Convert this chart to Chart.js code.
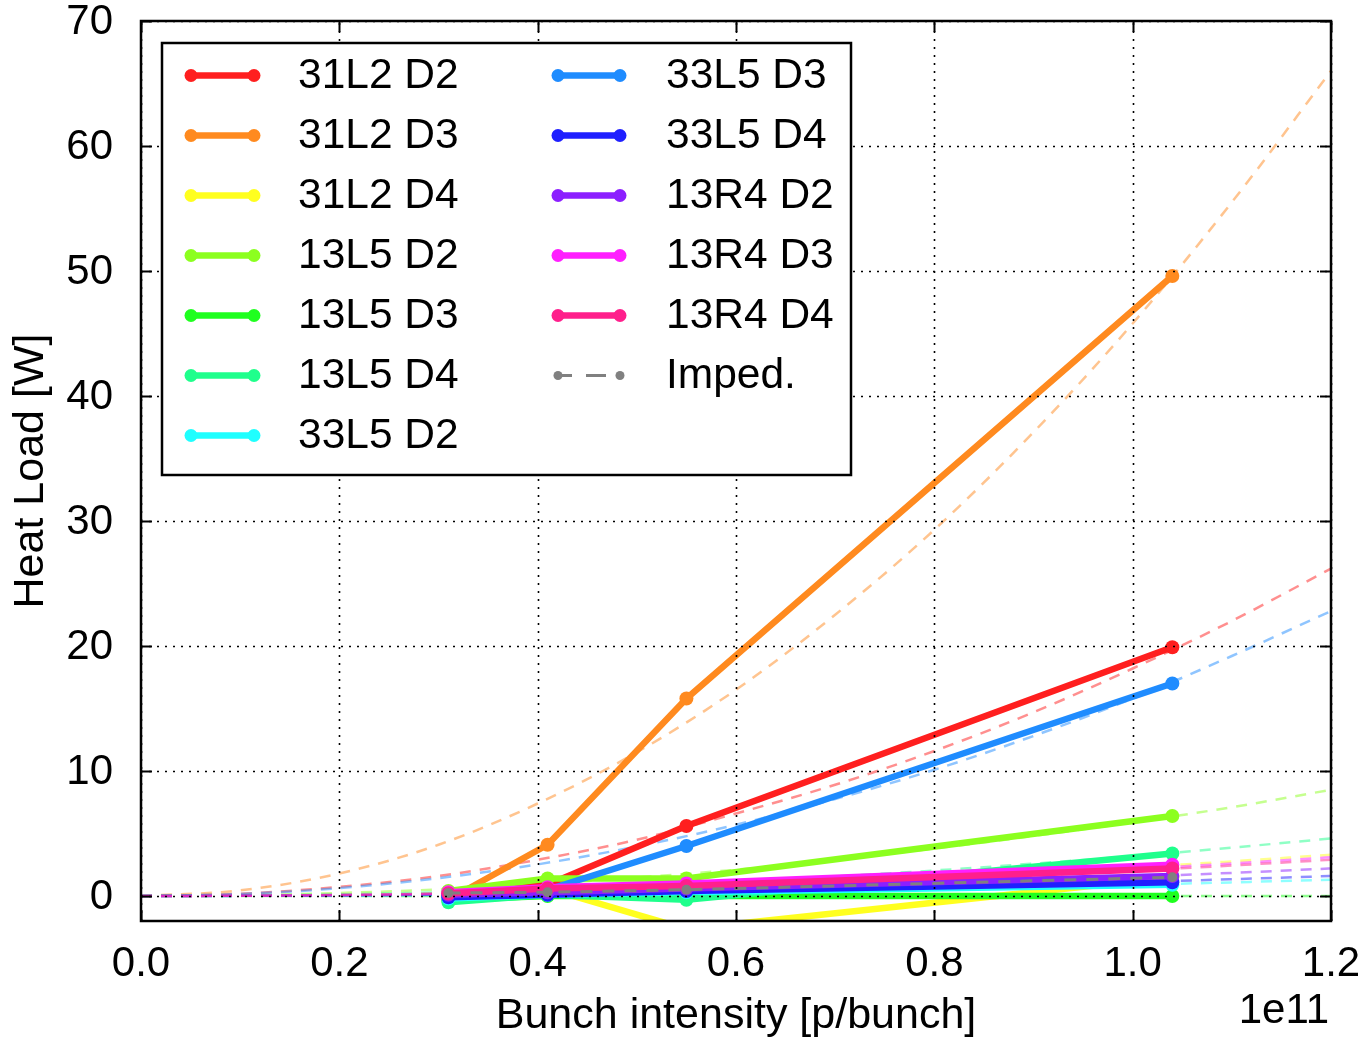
<!DOCTYPE html>
<html>
<head>
<meta charset="utf-8">
<title>Heat load vs bunch intensity</title>
<script src="https://cdn.jsdelivr.net/npm/chart.js@4.4.1/dist/chart.umd.min.js"></script>
<style>
  html, body { margin: 0; padding: 0; background: #ffffff; }
  #wrap { width: 1366px; height: 1038px; }
</style>
</head>
<body>
<div id="wrap"><canvas id="c" width="1366" height="1038"></canvas></div>
<script>
// Measured heat loads per magnet, at four bunch intensities (units of 1e11 p/bunch)
const intensities = [0.31, 0.41, 0.55, 1.04];

const seriesNames = ['31L2 D2', '31L2 D3', '31L2 D4', '13L5 D2', '13L5 D3', '13L5 D4',
                     '33L5 D2', '33L5 D3', '33L5 D4', '13R4 D2', '13R4 D3', '13R4 D4'];
const seriesColors = ['#ff1f1f', '#ff8a1f', '#ffff1f', '#8cff1f', '#1fff1f', '#1fff8c',
                      '#1fffff', '#1f8cff', '#1f1fff', '#8c1fff', '#ff1fff', '#ff1f8c'];

const load_31L2_D2 = [0.2, 0.9, 5.6, 19.9];
const load_31L2_D3 = [-0.3, 4.1, 15.8, 49.6];
const load_31L2_D4 = [0.0, 0.6, -2.65, 1.5];
const load_13L5_D2 = [0.4, 1.4, 1.4, 6.4];
const load_13L5_D3 = [-0.3, 0.0, 0.0, 0.0];
const load_13L5_D4 = [-0.5, 0.1, -0.3, 3.4];
const load_33L5_D2 = [-0.2, 0.1, 0.3, 0.9];
const load_33L5_D3 = [0.0, 0.5, 4.0, 17.0];
const load_33L5_D4 = [-0.1, 0.1, 0.4, 1.1];
const load_13R4_D2 = [0.1, 0.3, 0.6, 1.6];
const load_13R4_D3 = [0.3, 0.7, 1.0, 2.5];
const load_13R4_D4 = [0.2, 0.6, 0.8, 2.2];

// Impedance contribution at the same intensities
const impedLoad = [0.24, 0.3, 0.5, 1.5];

// Fitted curves, sampled from 0 to 1.2e11
const fitIntensities = [0, 0.1, 0.2, 0.3, 0.4, 0.5, 0.6, 0.7, 0.8, 0.9, 1.0, 1.1, 1.2];
const fit_31L2_D2 = [0, 0.18, 0.73, 1.6, 2.9, 4.5, 6.6, 8.9, 11.6, 14.7, 18.2, 22.0, 26.2];
const fit_31L2_D3 = [0, 0.45, 1.8, 4.1, 7.4, 11.5, 16.5, 22.5, 29.3, 37.1, 45.8, 55.5, 66.0];
const fit_31L2_D4 = [0, 0.02, 0.09, 0.21, 0.37, 0.57, 0.83, 1.12, 1.47, 1.86, 2.29, 2.77, 3.3];
const fit_13L5_D2 = [0, 0.06, 0.24, 0.53, 0.94, 1.48, 2.1, 2.9, 3.8, 4.8, 5.9, 7.1, 8.5];
const fit_13L5_D3 = [0, 0, 0, 0, 0, 0, 0, 0, 0, 0, 0, 0, 0];
const fit_13L5_D4 = [0, 0.03, 0.13, 0.29, 0.51, 0.80, 1.15, 1.57, 2.04, 2.59, 3.19, 3.87, 4.6];
const fit_33L5_D2 = [0, 0.01, 0.04, 0.08, 0.14, 0.23, 0.33, 0.44, 0.58, 0.73, 0.9, 1.09, 1.3];
const fit_33L5_D3 = [0, 0.16, 0.63, 1.43, 2.53, 3.96, 5.7, 7.76, 10.1, 12.8, 15.8, 19.2, 22.8];
const fit_33L5_D4 = [0, 0.01, 0.04, 0.1, 0.18, 0.28, 0.4, 0.54, 0.71, 0.9, 1.11, 1.34, 1.6];
const fit_13R4_D2 = [0, 0.02, 0.06, 0.14, 0.24, 0.38, 0.55, 0.75, 0.98, 1.24, 1.53, 1.85, 2.2];
const fit_13R4_D3 = [0, 0.02, 0.09, 0.19, 0.34, 0.54, 0.78, 1.05, 1.38, 1.74, 2.15, 2.6, 3.1];
const fit_13R4_D4 = [0, 0.02, 0.08, 0.18, 0.32, 0.5, 0.73, 0.99, 1.29, 1.63, 2.01, 2.44, 2.9];

const xTicks = [0, 0.2, 0.4, 0.6, 0.8, 1.0, 1.2];
const xTickLabels = ['0.0', '0.2', '0.4', '0.6', '0.8', '1.0', '1.2'];
const yTicks = [0, 10, 20, 30, 40, 50, 60, 70];
const yTickLabels = ['0', '10', '20', '30', '40', '50', '60', '70'];

const xTitle = 'Bunch intensity [p/bunch]';
const yTitle = 'Heat Load [W]';
const xExponent = '1e11';
const impedName = 'Imped.';

const measured = [load_31L2_D2, load_31L2_D3, load_31L2_D4, load_13L5_D2, load_13L5_D3, load_13L5_D4,
                  load_33L5_D2, load_33L5_D3, load_33L5_D4, load_13R4_D2, load_13R4_D3, load_13R4_D4];
const fits = [fit_31L2_D2, fit_31L2_D3, fit_31L2_D4, fit_13L5_D2, fit_13L5_D3, fit_13L5_D4,
              fit_33L5_D2, fit_33L5_D3, fit_33L5_D4, fit_13R4_D2, fit_13R4_D3, fit_13R4_D4];

const FONT = '"Liberation Sans", Arial, Helvetica, sans-serif';
const IMPED_COLOR = '#808080';

function hexAlpha(hex, a) {
  const r = parseInt(hex.slice(1, 3), 16), g = parseInt(hex.slice(3, 5), 16), b = parseInt(hex.slice(5, 7), 16);
  return `rgba(${r},${g},${b},${a})`;
}

// Datasets in drawing sequence: fitted curves underneath, measurements, then impedance on top
const drawSeq = [];
fits.forEach((vals, i) => {
  drawSeq.push({
    label: seriesNames[i] + ' fit',
    data: fitIntensities.map((x, k) => ({ x: x, y: vals[k] })),
    borderColor: hexAlpha(seriesColors[i], 0.5),
    borderWidth: 2.5,
    borderDash: [11, 9],
    pointRadius: 0,
    cubicInterpolationMode: 'monotone',
    fill: false
  });
});
measured.forEach((vals, i) => {
  drawSeq.push({
    label: seriesNames[i],
    data: intensities.map((x, k) => ({ x: x, y: vals[k] })),
    borderColor: seriesColors[i],
    backgroundColor: seriesColors[i],
    borderWidth: 6.5,
    pointRadius: 7,
    pointBorderWidth: 0,
    pointHoverRadius: 7,
    fill: false
  });
});
drawSeq.push({
  label: impedName,
  data: intensities.map((x, k) => ({ x: x, y: impedLoad[k] })),
  borderColor: IMPED_COLOR,
  backgroundColor: IMPED_COLOR,
  borderWidth: 3,
  borderDash: [12, 10],
  pointRadius: 5,
  pointBorderWidth: 0,
  fill: false
});
// lower order = drawn later (on top)
drawSeq.forEach((ds, i) => { ds.order = drawSeq.length - i; });

// Dotted grid drawn over the data, inward ticks, frame, tick labels and axis titles
const decorations = {
  id: 'decorations',
  afterDatasetsDraw(chart) {
    const { ctx, chartArea: a, scales: { x, y } } = chart;
    ctx.save();
    ctx.strokeStyle = '#000';
    ctx.lineWidth = 1.6;
    ctx.setLineDash([2, 6]);
    xTicks.forEach(v => {
      const px = Math.round(x.getPixelForValue(v)) + 0.5;
      ctx.beginPath(); ctx.moveTo(px, a.bottom); ctx.lineTo(px, a.top); ctx.stroke();
    });
    yTicks.forEach(v => {
      const py = Math.round(y.getPixelForValue(v)) + 0.5;
      ctx.beginPath(); ctx.moveTo(a.left, py); ctx.lineTo(a.right, py); ctx.stroke();
    });
    ctx.setLineDash([]);
    ctx.lineWidth = 2;
    const tl = 11;
    xTicks.forEach(v => {
      const px = Math.round(x.getPixelForValue(v)) + 0.5;
      ctx.beginPath(); ctx.moveTo(px, a.bottom); ctx.lineTo(px, a.bottom - tl); ctx.stroke();
      ctx.beginPath(); ctx.moveTo(px, a.top); ctx.lineTo(px, a.top + tl); ctx.stroke();
    });
    yTicks.forEach(v => {
      const py = Math.round(y.getPixelForValue(v)) + 0.5;
      ctx.beginPath(); ctx.moveTo(a.left, py); ctx.lineTo(a.left + tl, py); ctx.stroke();
      ctx.beginPath(); ctx.moveTo(a.right, py); ctx.lineTo(a.right - tl, py); ctx.stroke();
    });
    ctx.lineWidth = 2.5;
    ctx.strokeRect(a.left, a.top, a.right - a.left, a.bottom - a.top);

    // tick labels
    ctx.fillStyle = '#000';
    ctx.font = `42px ${FONT}`;
    ctx.textBaseline = 'middle';
    ctx.textAlign = 'center';
    xTicks.forEach((v, i) => ctx.fillText(xTickLabels[i], x.getPixelForValue(v), a.bottom + 43));
    ctx.textAlign = 'right';
    yTicks.forEach((v, i) => ctx.fillText(yTickLabels[i], a.left - 28, y.getPixelForValue(v) + 1));

    // axis titles
    ctx.font = `43px ${FONT}`;
    ctx.textAlign = 'center';
    ctx.fillText(xTitle, (a.left + a.right) / 2, 1016);
    ctx.textAlign = 'right';
    ctx.font = `42px ${FONT}`;
    ctx.fillText(xExponent, a.right - 2, 1011);
    ctx.save();
    ctx.font = `43px ${FONT}`;
    ctx.translate(31, (a.top + a.bottom) / 2);
    ctx.rotate(-Math.PI / 2);
    ctx.textAlign = 'center';
    ctx.fillText(yTitle, 0, 0);
    ctx.restore();
    ctx.restore();
  },
  afterDraw(chart) {
    // legend box in the upper-left of the plot
    const { ctx } = chart;
    const box = { left: 162, top: 43, right: 851, bottom: 475 };
    const rowY = k => 75.5 + 60 * k;
    ctx.save();
    ctx.fillStyle = '#fff';
    ctx.fillRect(box.left, box.top, box.right - box.left, box.bottom - box.top);
    ctx.strokeStyle = '#000';
    ctx.lineWidth = 2.5;
    ctx.strokeRect(box.left, box.top, box.right - box.left, box.bottom - box.top);

    const entries = seriesNames.map((n, i) => ({ name: n, color: seriesColors[i], imped: false }));
    entries.push({ name: impedName, color: IMPED_COLOR, imped: true });
    entries.forEach((e, i) => {
      const col = i < 7 ? 0 : 1;
      const row = i < 7 ? i : i - 7;
      const x0 = col === 0 ? 191 : 558;
      const x1 = col === 0 ? 254 : 620;
      const tx = col === 0 ? 298 : 666;
      const yy = rowY(row);
      ctx.strokeStyle = e.color;
      ctx.fillStyle = e.color;
      if (!e.imped) {
        ctx.lineWidth = 6.5;
        ctx.setLineDash([]);
        ctx.beginPath(); ctx.moveTo(x0, yy); ctx.lineTo(x1, yy); ctx.stroke();
        [x0, x1].forEach(px => { ctx.beginPath(); ctx.arc(px, yy, 6.5, 0, Math.PI * 2); ctx.fill(); });
      } else {
        ctx.lineWidth = 3;
        ctx.setLineDash([14, 14, 20, 30]);
        ctx.beginPath(); ctx.moveTo(x0, yy); ctx.lineTo(x1, yy); ctx.stroke();
        ctx.setLineDash([]);
        [x0, x1].forEach(px => { ctx.beginPath(); ctx.arc(px, yy, 4.5, 0, Math.PI * 2); ctx.fill(); });
      }
      ctx.fillStyle = '#000';
      ctx.font = `42.5px ${FONT}`;
      ctx.textAlign = 'left';
      ctx.textBaseline = 'middle';
      ctx.fillText(e.name, tx, yy + 1);
    });
    ctx.restore();
  }
};

new Chart(document.getElementById('c'), {
  type: 'line',
  data: { datasets: drawSeq },
  options: {
    responsive: false,
    animation: false,
    events: [],
    layout: { padding: { left: 0, top: 21, right: 35, bottom: 0 } },
    plugins: { legend: { display: false }, tooltip: { enabled: false } },
    scales: {
      x: {
        type: 'linear',
        min: 0, max: 1.2,
        afterBuildTicks: s => { s.ticks = xTicks.map(v => ({ value: v })); },
        afterFit: s => { s.height = 1038 - 921; },
        ticks: { display: false },
        grid: { display: false, drawTicks: false },
        border: { display: false }
      },
      y: {
        type: 'linear',
        min: -2, max: 70,
        afterBuildTicks: s => { s.ticks = yTicks.map(v => ({ value: v })); },
        afterFit: s => { s.width = 141; },
        ticks: { display: false },
        grid: { display: false, drawTicks: false },
        border: { display: false }
      }
    }
  },
  plugins: [decorations]
});
</script>
</body>
</html>
